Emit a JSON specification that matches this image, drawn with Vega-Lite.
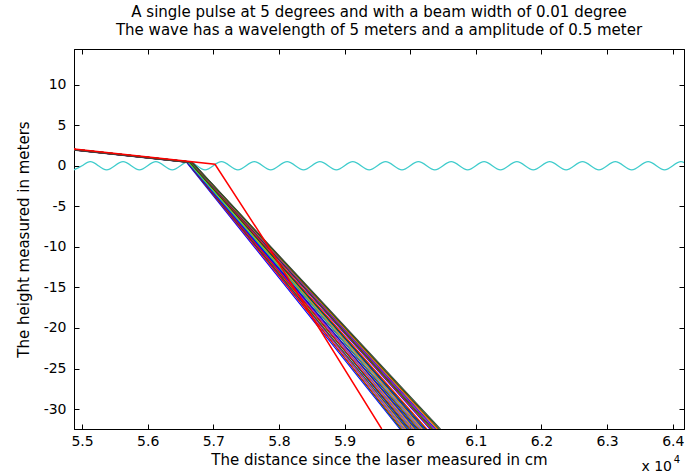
{
  "$schema": "https://vega.github.io/schema/vega-lite/v6.json",
  "width": 610,
  "height": 380,
  "autosize": {"type": "none"},
  "padding": {"left": 74, "top": 49, "right": 1, "bottom": 46},
  "background": "white",
  "title": {
    "text": ["A single pulse at 5 degrees and with a beam width of 0.01 degree", "The wave has a wavelength of 5 meters and a amplitude of 0.5 meter"],
    "font": "DejaVu Sans",
    "fontSize": 15,
    "fontWeight": "normal",
    "color": "black",
    "anchor": "middle",
    "lineHeight": 18,
    "offset": 11
  },
  "datasets": {
    "wave": [
      {"x": 54875, "y": -0.5}, {"x": 55000, "y": 0}, {"x": 55125, "y": 0.5}, {"x": 55250, "y": 0},
      {"x": 55375, "y": -0.5}, {"x": 55500, "y": 0}, {"x": 55625, "y": 0.5}, {"x": 55750, "y": 0},
      {"x": 55875, "y": -0.5}, {"x": 56000, "y": 0}, {"x": 56125, "y": 0.5}, {"x": 56250, "y": 0},
      {"x": 56375, "y": -0.5}, {"x": 56500, "y": 0}, {"x": 56625, "y": 0.5}, {"x": 56750, "y": 0},
      {"x": 56875, "y": -0.5}, {"x": 57000, "y": 0}, {"x": 57125, "y": 0.5}, {"x": 57250, "y": 0},
      {"x": 57375, "y": -0.5}, {"x": 57500, "y": 0}, {"x": 57625, "y": 0.5}, {"x": 57750, "y": 0},
      {"x": 57875, "y": -0.5}, {"x": 58000, "y": 0}, {"x": 58125, "y": 0.5}, {"x": 58250, "y": 0},
      {"x": 58375, "y": -0.5}, {"x": 58500, "y": 0}, {"x": 58625, "y": 0.5}, {"x": 58750, "y": 0},
      {"x": 58875, "y": -0.5}, {"x": 59000, "y": 0}, {"x": 59125, "y": 0.5}, {"x": 59250, "y": 0},
      {"x": 59375, "y": -0.5}, {"x": 59500, "y": 0}, {"x": 59625, "y": 0.5}, {"x": 59750, "y": 0},
      {"x": 59875, "y": -0.5}, {"x": 60000, "y": 0}, {"x": 60125, "y": 0.5}, {"x": 60250, "y": 0},
      {"x": 60375, "y": -0.5}, {"x": 60500, "y": 0}, {"x": 60625, "y": 0.5}, {"x": 60750, "y": 0},
      {"x": 60875, "y": -0.5}, {"x": 61000, "y": 0}, {"x": 61125, "y": 0.5}, {"x": 61250, "y": 0},
      {"x": 61375, "y": -0.5}, {"x": 61500, "y": 0}, {"x": 61625, "y": 0.5}, {"x": 61750, "y": 0},
      {"x": 61875, "y": -0.5}, {"x": 62000, "y": 0}, {"x": 62125, "y": 0.5}, {"x": 62250, "y": 0},
      {"x": 62375, "y": -0.5}, {"x": 62500, "y": 0}, {"x": 62625, "y": 0.5}, {"x": 62750, "y": 0},
      {"x": 62875, "y": -0.5}, {"x": 63000, "y": 0}, {"x": 63125, "y": 0.5}, {"x": 63250, "y": 0},
      {"x": 63375, "y": -0.5}, {"x": 63500, "y": 0}, {"x": 63625, "y": 0.5}, {"x": 63750, "y": 0},
      {"x": 63875, "y": -0.5}, {"x": 64000, "y": 0}, {"x": 64125, "y": 0.5}, {"x": 64250, "y": 0}
    ],
    "rays": [
      {"r": 1, "c": "b", "x": 54878, "y": 1.951}, {"r": 1, "c": "b", "x": 56590, "y": 0.453}, {"r": 1, "c": "b", "x": 59844, "y": -32.46},
      {"r": 2, "c": "g", "x": 54878, "y": 2.032}, {"r": 2, "c": "g", "x": 56630, "y": 0.499}, {"r": 2, "c": "g", "x": 59862, "y": -32.46},
      {"r": 3, "c": "r", "x": 54878, "y": 1.983}, {"r": 3, "c": "r", "x": 56600, "y": 0.476}, {"r": 3, "c": "r", "x": 59880, "y": -32.46},
      {"r": 4, "c": "c", "x": 54878, "y": 2.026}, {"r": 4, "c": "c", "x": 56650, "y": 0.476}, {"r": 4, "c": "c", "x": 59898, "y": -32.46},
      {"r": 5, "c": "m", "x": 54878, "y": 2.007}, {"r": 5, "c": "m", "x": 56610, "y": 0.491}, {"r": 5, "c": "m", "x": 59916, "y": -32.46},
      {"r": 6, "c": "y", "x": 54878, "y": 2.033}, {"r": 6, "c": "y", "x": 56640, "y": 0.491}, {"r": 6, "c": "y", "x": 59934, "y": -32.46},
      {"r": 7, "c": "k", "x": 54878, "y": 1.967}, {"r": 7, "c": "k", "x": 56595, "y": 0.465}, {"r": 7, "c": "k", "x": 59952, "y": -32.46},
      {"r": 8, "c": "b", "x": 54878, "y": 2.011}, {"r": 8, "c": "b", "x": 56660, "y": 0.452}, {"r": 8, "c": "b", "x": 59970, "y": -32.46},
      {"r": 9, "c": "g", "x": 54878, "y": 2.023}, {"r": 9, "c": "g", "x": 56620, "y": 0.499}, {"r": 9, "c": "g", "x": 59988, "y": -32.46},
      {"r": 10, "c": "r", "x": 54878, "y": 1.995}, {"r": 10, "c": "r", "x": 56605, "y": 0.484}, {"r": 10, "c": "r", "x": 60006, "y": -32.46},
      {"r": 11, "c": "c", "x": 54878, "y": 2.030}, {"r": 11, "c": "c", "x": 56645, "y": 0.484}, {"r": 11, "c": "c", "x": 60024, "y": -32.46},
      {"r": 12, "c": "m", "x": 54878, "y": 2.016}, {"r": 12, "c": "m", "x": 56615, "y": 0.496}, {"r": 12, "c": "m", "x": 60042, "y": -32.46},
      {"r": 13, "c": "y", "x": 54878, "y": 2.020}, {"r": 13, "c": "y", "x": 56655, "y": 0.465}, {"r": 13, "c": "y", "x": 60060, "y": -32.46},
      {"r": 14, "c": "k", "x": 54878, "y": 2.029}, {"r": 14, "c": "k", "x": 56625, "y": 0.5}, {"r": 14, "c": "k", "x": 60078, "y": -32.46},
      {"r": 15, "c": "b", "x": 54878, "y": 1.983}, {"r": 15, "c": "b", "x": 56600, "y": 0.476}, {"r": 15, "c": "b", "x": 60096, "y": -32.46},
      {"r": 16, "c": "g", "x": 54878, "y": 2.002}, {"r": 16, "c": "g", "x": 56665, "y": 0.438}, {"r": 16, "c": "g", "x": 60114, "y": -32.46},
      {"r": 17, "c": "r", "x": 54878, "y": 2.033}, {"r": 17, "c": "r", "x": 56635, "y": 0.496}, {"r": 17, "c": "r", "x": 60132, "y": -32.46},
      {"r": 18, "c": "c", "x": 54878, "y": 2.007}, {"r": 18, "c": "c", "x": 56610, "y": 0.491}, {"r": 18, "c": "c", "x": 60150, "y": -32.46},
      {"r": 19, "c": "m", "x": 54878, "y": 2.026}, {"r": 19, "c": "m", "x": 56650, "y": 0.476}, {"r": 19, "c": "m", "x": 60168, "y": -32.46},
      {"r": 20, "c": "y", "x": 54878, "y": 2.023}, {"r": 20, "c": "y", "x": 56620, "y": 0.499}, {"r": 20, "c": "y", "x": 60186, "y": -32.46},
      {"r": 21, "c": "k", "x": 54878, "y": 2.011}, {"r": 21, "c": "k", "x": 56660, "y": 0.452}, {"r": 21, "c": "k", "x": 60204, "y": -32.46},
      {"r": 22, "c": "b", "x": 54878, "y": 2.033}, {"r": 22, "c": "b", "x": 56640, "y": 0.491}, {"r": 22, "c": "b", "x": 60222, "y": -32.46},
      {"r": 23, "c": "g", "x": 54878, "y": 2.032}, {"r": 23, "c": "g", "x": 56630, "y": 0.499}, {"r": 23, "c": "g", "x": 60240, "y": -32.46},
      {"r": 24, "c": "r", "x": 54878, "y": 2.020}, {"r": 24, "c": "r", "x": 56655, "y": 0.465}, {"r": 24, "c": "r", "x": 60256, "y": -32.46},
      {"r": 25, "c": "b", "x": 54878, "y": 1.990}, {"r": 25, "c": "b", "x": 56670, "y": 0.422}, {"r": 25, "c": "b", "x": 60300, "y": -32.46},
      {"r": 26, "c": "r", "x": 54878, "y": 1.976}, {"r": 26, "c": "r", "x": 56675, "y": 0.404}, {"r": 26, "c": "r", "x": 60318, "y": -32.46},
      {"r": 27, "c": "g", "x": 54878, "y": 1.995}, {"r": 27, "c": "g", "x": 56668, "y": 0.429}, {"r": 27, "c": "g", "x": 60336, "y": -32.46},
      {"r": 28, "c": "k", "x": 54878, "y": 1.962}, {"r": 28, "c": "k", "x": 56680, "y": 0.385}, {"r": 28, "c": "k", "x": 60354, "y": -32.46},
      {"r": 29, "c": "m", "x": 54878, "y": 1.985}, {"r": 29, "c": "m", "x": 56672, "y": 0.415}, {"r": 29, "c": "m", "x": 60372, "y": -32.46},
      {"r": 30, "c": "b", "x": 54878, "y": 1.945}, {"r": 30, "c": "b", "x": 56685, "y": 0.364}, {"r": 30, "c": "b", "x": 60390, "y": -32.46},
      {"r": 31, "c": "y", "x": 54878, "y": 1.974}, {"r": 31, "c": "y", "x": 56676, "y": 0.401}, {"r": 31, "c": "y", "x": 60408, "y": -32.46},
      {"r": 32, "c": "r", "x": 54878, "y": 1.956}, {"r": 32, "c": "r", "x": 56682, "y": 0.377}, {"r": 32, "c": "r", "x": 60426, "y": -32.46},
      {"r": 33, "c": "g", "x": 54878, "y": 1.968}, {"r": 33, "c": "g", "x": 56678, "y": 0.393}, {"r": 33, "c": "g", "x": 60444, "y": -32.46},
      {"r": 34, "c": "k", "x": 54878, "y": 1.936}, {"r": 34, "c": "k", "x": 56688, "y": 0.352}, {"r": 34, "c": "k", "x": 60462, "y": -32.46}
    ],
    "red": [
      {"x": 54878, "y": 2.07}, {"x": 57026, "y": 0.19}, {"x": 57773, "y": -9.11}, {"x": 59566, "y": -32.46}
    ],
    "note": [
      {"t": "x 10", "s": "4", "x": 64171, "y": -32.46}
    ]
  },
  "layer": [
    {
      "data": {"name": "wave"},
      "mark": {"type": "line", "color": "#40cccc", "strokeWidth": 1.3, "interpolate": "natural", "clip": true},
      "encoding": {
        "x": {
          "field": "x", "type": "quantitative",
          "scale": {"domain": [54878, 64171], "nice": false, "zero": false},
          "axis": {
            "orient": "bottom",
            "values": [55000, 56000, 57000, 58000, 59000, 60000, 61000, 62000, 63000, 64000],
            "labelExpr": "format(datum.value / 10000, '.1~f')",
            "title": "The distance since the laser measured in cm"
          }
        },
        "y": {
          "field": "y", "type": "quantitative",
          "scale": {"domain": [-32.46, 14.4], "nice": false, "zero": false},
          "axis": {
            "orient": "left",
            "values": [-30, -25, -20, -15, -10, -5, 0, 5, 10],
            "labelExpr": "datum.value < 0 ? '-' + abs(datum.value) : '' + datum.value",
            "title": "The height measured in meters"
          }
        }
      }
    },
    {
      "data": {"name": "wave"},
      "mark": {"type": "line", "opacity": 0},
      "encoding": {
        "x": {
          "field": "x", "type": "quantitative",
          "axis": {
            "orient": "top",
            "values": [55000, 56000, 57000, 58000, 59000, 60000, 61000, 62000, 63000, 64000],
            "labels": false, "title": null
          }
        },
        "y": {
          "field": "y", "type": "quantitative",
          "axis": {
            "orient": "right",
            "values": [-30, -25, -20, -15, -10, -5, 0, 5, 10],
            "labels": false, "title": null
          }
        }
      }
    },
    {
      "data": {"name": "rays"},
      "mark": {"type": "line", "strokeWidth": 1.1, "clip": true},
      "encoding": {
        "x": {"field": "x", "type": "quantitative", "axis": null},
        "y": {"field": "y", "type": "quantitative", "axis": null},
        "detail": {"field": "r", "type": "nominal"},
        "color": {
          "field": "c", "type": "nominal", "legend": null,
          "scale": {
            "domain": ["b", "g", "r", "c", "m", "y", "k"],
            "range": ["#0000ff", "#008000", "#ff0000", "#00bfbf", "#bf00bf", "#bfbf00", "#404040"]
          }
        }
      }
    },
    {
      "data": {"name": "red"},
      "mark": {"type": "line", "color": "#ff0000", "strokeWidth": 1.5, "clip": true},
      "encoding": {
        "x": {"field": "x", "type": "quantitative", "axis": null},
        "y": {"field": "y", "type": "quantitative", "axis": null}
      }
    },
    {
      "data": {"name": "note"},
      "mark": {"type": "text", "align": "right", "baseline": "alphabetic", "dy": 42, "dx": -12, "font": "DejaVu Sans", "fontSize": 14, "color": "black"},
      "encoding": {
        "x": {"field": "x", "type": "quantitative", "axis": null},
        "y": {"field": "y", "type": "quantitative", "axis": null},
        "text": {"field": "t"}
      }
    },
    {
      "data": {"name": "note"},
      "mark": {"type": "text", "align": "right", "baseline": "alphabetic", "dy": 34, "dx": -4, "font": "DejaVu Sans", "fontSize": 10, "color": "black"},
      "encoding": {
        "x": {"field": "x", "type": "quantitative", "axis": null},
        "y": {"field": "y", "type": "quantitative", "axis": null},
        "text": {"field": "s"}
      }
    }
  ],
  "resolve": {"axis": {"x": "independent", "y": "independent"}},
  "config": {
    "view": {"stroke": "black", "strokeWidth": 1},
    "axis": {
      "grid": false,
      "domain": true,
      "domainColor": "black",
      "tickColor": "black",
      "tickSize": -5,
      "labelFont": "DejaVu Sans",
      "labelFontSize": 14,
      "labelColor": "black",
      "titleFont": "DejaVu Sans",
      "titleFontSize": 15,
      "titleFontWeight": "normal",
      "titleColor": "black"
    },
    "axisBottom": {"labelPadding": 10, "titlePadding": 4},
    "axisLeft": {"labelPadding": 13, "titlePadding": 12}
  }
}
